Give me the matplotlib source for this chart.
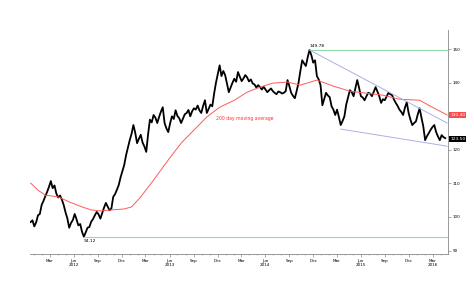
import matplotlib.pyplot as plt
import matplotlib.dates as mdates
import pandas as pd
import numpy as np

# weekly closes, first week starting 2012-01-02
start_date = "2012-01-02"
price = [
    98.5, 99.0, 97.2, 98.4, 100.5, 100.9, 103.6, 104.8, 106.2, 107.5, 109.0, 110.7,
    108.6, 109.4, 107.0, 105.8, 106.4, 105.2, 103.6, 101.4, 99.6, 96.8, 98.2, 99.1,
    100.9, 99.3, 97.5, 97.9, 95.6, 94.12, 95.4, 96.8, 97.0, 98.6, 99.4, 100.5,
    101.5, 100.8, 99.5, 101.2, 102.8, 104.2, 103.1, 102.0, 102.5, 106.0, 106.8, 108.1,
    109.5, 111.8, 113.6, 115.5, 118.4, 120.6, 122.9, 124.8, 127.4, 125.1, 122.0, 123.3,
    124.5, 122.2, 121.0, 119.4, 124.6, 129.0, 128.2, 130.4, 129.6, 128.0, 129.8, 131.4,
    132.7, 128.0, 126.4, 125.3, 127.9, 130.0, 129.2, 131.8, 130.1, 129.4, 128.0, 129.3,
    130.6, 131.0, 131.9, 130.0, 131.5, 132.4, 132.0, 133.2, 131.8, 131.0, 133.1, 134.8,
    131.0, 132.2, 133.5, 133.0, 136.8, 140.0, 142.6, 145.2, 142.0, 143.5, 142.3, 139.8,
    137.2, 138.6, 140.0, 141.2, 140.3, 143.2, 141.8, 140.5, 141.3, 142.3, 141.6, 140.4,
    141.0, 139.8, 139.5, 138.6, 139.3, 138.7, 138.0, 138.8, 138.0, 137.2, 137.8, 138.3,
    137.5, 137.0, 136.6, 137.4, 137.2, 136.8, 137.0, 137.5, 140.8, 139.0, 137.0, 136.1,
    135.4, 137.6, 140.0, 143.5, 146.7, 145.8, 145.0, 147.6, 149.78, 148.2, 146.0, 146.7,
    142.0, 141.0, 139.3, 133.3, 135.2, 137.0, 136.2, 135.7, 133.0, 132.0, 130.4, 132.0,
    129.8, 127.4, 128.6, 130.0, 133.5, 135.6, 137.8, 137.2, 136.0, 138.4, 140.8, 138.5,
    136.0, 135.6, 134.8, 136.0, 137.0, 136.8, 136.0, 137.3, 138.7, 137.4, 136.0, 134.0,
    135.1, 134.8, 135.9, 137.0, 136.6, 136.3, 135.0, 134.0, 133.1, 132.0, 131.3, 130.4,
    132.6, 134.2, 131.0, 129.0, 127.4, 128.0, 128.5, 130.6, 132.4, 129.6, 127.0, 122.9,
    124.1, 125.0, 126.0, 126.8, 127.4, 125.3, 124.0, 122.9, 124.4, 123.8, 123.5,
]

# 200 day moving average, sampled (week index, value)
ma_week = [0, 4, 8, 15, 21, 28, 33, 38, 44, 51, 55, 60, 67, 75, 82, 89, 96, 103,
           111, 118, 125, 132, 140, 147, 156, 165, 174, 183, 192, 201, 212, 219, 227]
ma_value = [110.1, 108.0, 106.5, 106.0, 104.5, 103.0, 102.1, 101.8, 102.1, 102.4, 103.0,
            106.0, 111.0, 117.0, 122.0, 125.9, 129.8, 132.7, 134.8, 137.2, 138.7, 139.9,
            140.2, 139.3, 140.8, 139.0, 137.5, 136.9, 136.3, 135.1, 134.8, 132.7, 130.4]

high_week, high_value = 152, 149.78
low_week, low_value = 29, 94.12
last_price_label = "123.50"
last_ma_label = "130.40"

# trend lines (week index, value)
upper_line = ([152, 227], [149.78, 128.0])
lower_line = ([169, 227], [126.2, 121.1])

tick_dates = pd.date_range("2012-03-01", "2016-03-01", freq="3MS") + pd.Timedelta(days=14)
year_ticks = {"2012-06": "2012", "2013-06": "2013", "2014-06": "2014",
              "2015-06": "2015", "2016-03": "2016"}
y_ticks = [90, 100, 110, 120, 130, 140, 150]
y_labels = ["90", "100", "110", "120", "", "140", "150"]  # 130 sits under the MA box

t0 = pd.Timestamp(start_date)
dates = t0 + pd.to_timedelta(np.arange(len(price)) * 7, unit="D")
wk = lambda w: t0 + pd.to_timedelta(np.asarray(w) * 7, unit="D")

fig = plt.figure(figsize=(4.74, 2.98), dpi=100)
ax = fig.add_axes([0.063, 0.148, 0.882, 0.751])

ax.plot(dates, price, color="black", linewidth=1.3)
ax.plot(wk(ma_week), ma_value, color="#ff5a5a", linewidth=0.7)

# support / resistance
ax.plot([wk(high_week), wk(227)], [high_value, high_value], color="#8fdcaa", linewidth=0.8)
ax.plot([wk(low_week), wk(227)], [low_value, low_value], color="#8fdcaa", linewidth=0.8)
ax.plot(wk(upper_line[0]), upper_line[1], color="#a9b0e6", linewidth=0.7)
ax.plot(wk(lower_line[0]), lower_line[1], color="#a9b0e6", linewidth=0.7)

ax.text(wk(high_week), high_value + 0.6, f"{high_value:.2f}", fontsize=3.2, va="bottom", ha="left")
ax.text(wk(low_week), low_value - 0.8, f"{low_value:.2f}", fontsize=3.2, va="top", ha="left")
ax.text(wk(101), 129.5, "200 day moving average", color="#ff3030", fontsize=3.3, va="center")

ax.annotate(last_ma_label, xy=(1.005, 130.4), xycoords=("axes fraction", "data"),
            fontsize=3.2, color="white", va="center", ha="left",
            bbox=dict(boxstyle="square,pad=0.25", fc="#ff4a4a", ec="none"))
ax.annotate(last_price_label, xy=(1.005, 123.3), xycoords=("axes fraction", "data"),
            fontsize=3.2, color="white", va="center", ha="left",
            bbox=dict(boxstyle="square,pad=0.25", fc="black", ec="none"))

ax.set_xlim(pd.Timestamp("2011-12-30"), pd.Timestamp("2016-05-12"))
ax.set_ylim(89, 155.7)

labels = []
for d in tick_dates:
    key = d.strftime("%Y-%m")
    lab = d.strftime("%b")
    if key in year_ticks:
        lab += "\n" + year_ticks[key]
    labels.append(lab)
ax.set_xticks(tick_dates)
ax.set_xticklabels(labels, fontsize=3)
ax.xaxis.set_minor_locator(mdates.MonthLocator(bymonthday=15))

ax.yaxis.tick_right()
ax.set_yticks(y_ticks)
ax.set_yticklabels(y_labels, fontsize=3)

for s in ["top", "left"]:
    ax.spines[s].set_visible(False)
ax.spines["bottom"].set_color("#888888")
ax.spines["right"].set_color("#888888")
ax.spines["bottom"].set_linewidth(0.6)
ax.spines["right"].set_linewidth(0.6)
ax.tick_params(axis="both", which="major", length=2, width=0.5, color="#888888", pad=1.5)
ax.tick_params(axis="both", which="minor", length=1, width=0.4, color="#888888")

fig.savefig("out.png", dpi=100)
